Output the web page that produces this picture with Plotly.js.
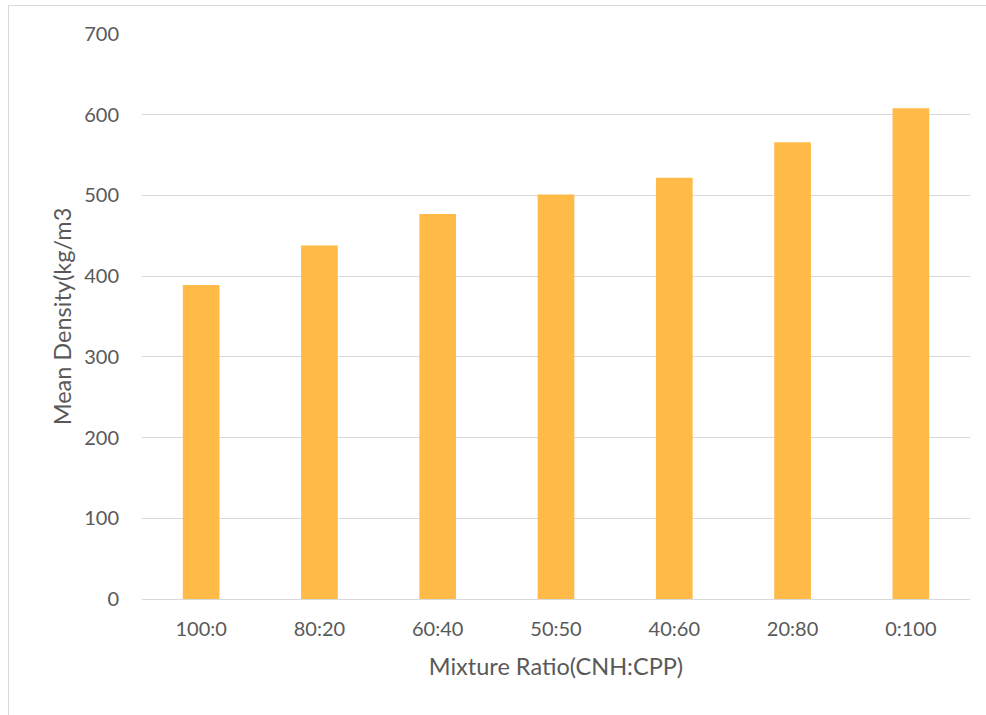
<!DOCTYPE html>
<html>
<head>
<meta charset="utf-8">
<script src="https://cdn.plot.ly/plotly-3.0.1.min.js"></script>
<style>
html,body{margin:0;padding:0;background:#fff;}
#frame{position:absolute;left:8px;top:5px;width:1000px;height:720px;border-left:1px solid #d9d9d9;border-top:1px solid #d9d9d9;}
#chart{position:absolute;left:0;top:0;width:986px;height:715px;}
</style>
</head>
<body>
<div id="frame"></div>
<div id="chart"></div>
<script>
const categories = ["100:0", "80:20", "60:40", "50:50", "40:60", "20:80", "0:100"];
const meanDensity = [389, 438, 477, 501, 522, 566, 608];
const yTicks = [0, 100, 200, 300, 400, 500, 600, 700];

const trace = {
  type: 'bar',
  x: categories,
  y: meanDensity,
  marker: {color: '#ffba47'},
  hoverinfo: 'x+y'
};

const fontFam = 'Lato, "Open Sans", "Liberation Sans", sans-serif';
const layout = {
  width: 986, height: 715,
  margin: {l: 142, r: 16, t: 34, b: 116},
  paper_bgcolor: 'rgba(0,0,0,0)',
  plot_bgcolor: 'rgba(0,0,0,0)',
  bargap: 0.69,
  showlegend: false,
  font: {family: fontFam, color: '#595959', size: 20},
  xaxis: {
    type: 'category',
    showgrid: false,
    showline: false,
    ticks: '',
    ticklabelstandoff: 16,
    tickfont: {size: 20, color: '#595959', family: fontFam},
    title: {text: 'Mixture Ratio(CNH:CPP)', font: {size: 23.5, color: '#595959', family: fontFam}, standoff: 19}
  },
  yaxis: {
    range: [0, 700],
    tickvals: yTicks,
    ticktext: yTicks.map(String),
    showgrid: true,
    gridcolor: '#d9d9d9',
    gridwidth: 1,
    zeroline: true,
    zerolinecolor: '#d9d9d9',
    zerolinewidth: 1,
    showline: false,
    ticks: '',
    ticklabelstandoff: 22,
    tickfont: {size: 20, color: '#595959', family: fontFam},
    title: {text: 'Mean Density(kg/m3', font: {size: 23.5, color: '#595959', family: fontFam}, standoff: 5}
  }
};

Plotly.newPlot('chart', [trace], layout, {displayModeBar: false, staticPlot: true});
</script>
</body>
</html>
